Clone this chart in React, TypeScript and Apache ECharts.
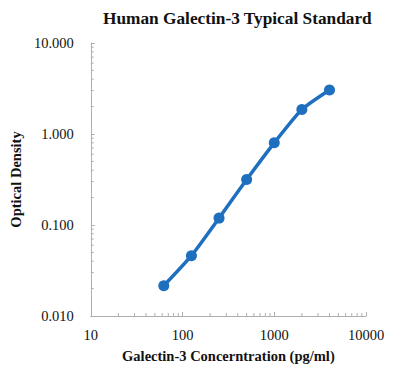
import React, { useEffect, useRef } from "react";
import * as echarts from "echarts";

const concentrations = [62.5, 125, 250, 500, 1000, 2000, 4000];
const opticalDensity = [0.0215, 0.046, 0.119, 0.316, 0.8, 1.86, 3.05];
const xMinorTicks = [20, 30, 40, 50, 60, 70, 80, 90, 200, 300, 400, 500, 600, 700, 800, 900, 2000, 3000, 4000, 5000, 6000, 7000, 8000, 9000];
const yMinorTicks = [0.02, 0.03, 0.04, 0.05, 0.06, 0.07, 0.08, 0.09, 0.2, 0.3, 0.4, 0.5, 0.6, 0.7, 0.8, 0.9, 2, 3, 4, 5, 6, 7, 8, 9];
const xMin = 10;
const xMax = 10000;
const yMin = 0.01;
const yMax = 10;

const serif = "'Liberation Serif', 'Times New Roman', serif";
const axisGrey = "#b0b0b0";
const blue = "#1e6fbe";

export default function App() {
  const ref = useRef<HTMLDivElement>(null);
  useEffect(() => {
    document.body.style.margin = "0";
    const chart = echarts.init(ref.current!, null, { renderer: "svg" });
    chart.setOption({
      animation: false,
      backgroundColor: "#ffffff",
      title: {
        text: "Human Galectin-3 Typical Standard",
        left: 98,
        top: 5,
        textStyle: { fontFamily: serif, fontWeight: "bold", fontSize: 17.3, color: "#111" },
      },
      grid: { left: 89, top: 43, width: 277, height: 276 },
      xAxis: {
        type: "log",
        logBase: 10,
        min: xMin,
        max: xMax,
        name: "Galectin-3 Concerntration (pg/ml)",
        nameLocation: "middle",
        nameGap: 32,
        nameTextStyle: { fontFamily: serif, fontWeight: "bold", fontSize: 14.5, color: "#111" },
        axisLine: { show: true, lineStyle: { color: axisGrey, width: 1 } },
        axisTick: { show: true, inside: true, length: 4, lineStyle: { color: axisGrey } },
        axisLabel: {
          fontFamily: serif,
          fontSize: 14.5,
          color: "#111",
          margin: 11,
          formatter: (v: number) => String(Math.round(v)),
        },
        splitLine: { show: false },
      },
      yAxis: {
        type: "log",
        logBase: 10,
        min: yMin,
        max: yMax,
        name: "Optical Density",
        nameLocation: "middle",
        nameGap: 59,
        nameTextStyle: { fontFamily: serif, fontWeight: "bold", fontSize: 14.5, color: "#111" },
        axisLine: { show: true, lineStyle: { color: axisGrey, width: 1 } },
        axisTick: { show: true, inside: true, length: 4, lineStyle: { color: axisGrey } },
        axisLabel: {
          fontFamily: serif,
          fontSize: 14.5,
          color: "#111",
          margin: 17,
          formatter: (v: number) => v.toFixed(3),
        },
        splitLine: { show: false },
      },
      series: [
        {
          type: "custom",
          silent: true,
          data: xMinorTicks.map((v) => [v, yMin]),
          renderItem: (params: any, api: any) => {
            const p = api.coord([api.value(0), api.value(1)]);
            return {
              type: "line",
              shape: { x1: p[0], y1: p[1], x2: p[0], y2: p[1] - 3 },
              style: { stroke: axisGrey, lineWidth: 1 },
            };
          },
          z: 1,
        },
        {
          type: "custom",
          silent: true,
          data: yMinorTicks.map((v) => [xMin, v]),
          renderItem: (params: any, api: any) => {
            const p = api.coord([api.value(0), api.value(1)]);
            return {
              type: "line",
              shape: { x1: p[0], y1: p[1], x2: p[0] + 3, y2: p[1] },
              style: { stroke: axisGrey, lineWidth: 1 },
            };
          },
          z: 1,
        },
        {
          type: "line",
          data: concentrations.map((c, i) => [c, opticalDensity[i]]),
          smooth: 0.2,
          symbol: "circle",
          symbolSize: 11,
          lineStyle: { color: blue, width: 3.5 },
          itemStyle: { color: blue },
          z: 3,
        },
      ],
    });
    return () => chart.dispose();
  }, []);
  return <div ref={ref} style={{ width: 405, height: 368 }} />;
}
